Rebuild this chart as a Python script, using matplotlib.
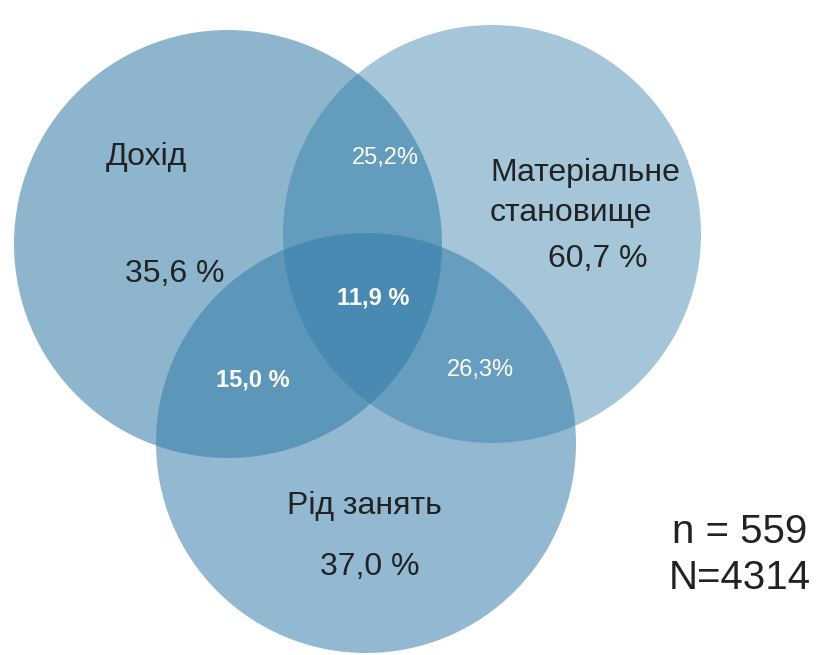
import matplotlib.pyplot as plt
from matplotlib.patches import Circle

plt.rcParams['font.family'] = ['Liberation Sans', 'DejaVu Sans']

# sets
set_names = ['Дохід', 'Матеріальне\nстановище', 'Рід занять']
set_values = ['35,6 %', '60,7 %', '37,0 %']
pair_labels = ['25,2%', '15,0 %', '26,3%']   # доход+мат., доход+рід, мат.+рід
pair_bold = [False, True, False]
center_label = '11,9 %'
n_text = 'n = 559\nN=4314'

fig = plt.figure(figsize=(8.19, 6.55), dpi=100)
ax = fig.add_axes([0, 0, 1, 1])
ax.set_xlim(0, 819)
ax.set_ylim(655, 0)
ax.set_aspect('equal')
ax.axis('off')

base = '#2f7aa7'
circles = [((228, 244), 214, 0.55),
           ((492, 234), 209, 0.43),
           ((366, 443), 210, 0.52)]
for (c, r, a) in circles:
    ax.add_patch(Circle(c, r, facecolor=base, edgecolor='none', alpha=a))

dark = '#222222'
big = dict(ha='center', va='center', fontsize=23, color=dark)
ax.text(146, 157, set_names[0], **big)
ax.text(175, 274, set_values[0], **big)
ax.text(490, 193, set_names[1], ha='left', va='center', fontsize=23, color=dark,
        linespacing=1.42)
ax.text(598, 259, set_values[1], **big)
ax.text(364, 506, set_names[2], **big)
ax.text(370, 567, set_values[2], **big)

pair_pos = [(385, 158), (253, 380), (480, 370)]
for (x, y), lab, b in zip(pair_pos, pair_labels, pair_bold):
    ax.text(x, y, lab, ha='center', va='center', fontsize=17, color='white',
            fontweight='bold' if b else 'normal')
ax.text(373, 298, center_label, ha='center', va='center', fontsize=17,
        color='white', fontweight='bold')

ax.text(740, 555, n_text, ha='center', va='center', fontsize=29, color=dark,
        linespacing=1.29)

fig.savefig('out.png', dpi=100)
